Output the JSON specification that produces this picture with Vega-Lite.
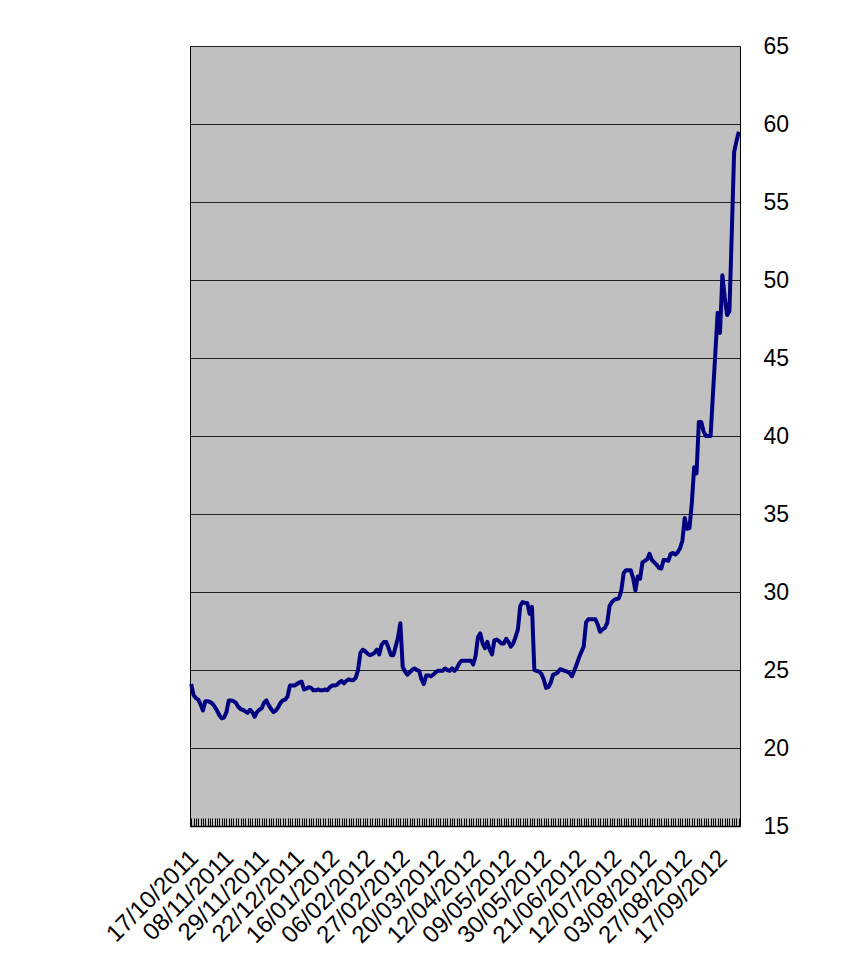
{
  "$schema": "https://vega.github.io/schema/vega-lite/v6.json",
  "width": 550,
  "height": 780,
  "autosize": {"type": "none"},
  "padding": {"left": 190, "top": 46, "right": 118, "bottom": 139},
  "background": "white",
  "config": {"view": {"fill": "#C0C0C0", "stroke": "#000000", "strokeWidth": 1}},
  "data": {"values": [
    {"date":"17/10/2011","value":24.1},{"date":"18/10/2011","value":23.4},{"date":"19/10/2011","value":23.2},{"date":"20/10/2011","value":23.1},{"date":"21/10/2011","value":22.8},
    {"date":"24/10/2011","value":22.4},{"date":"25/10/2011","value":23.0},{"date":"26/10/2011","value":23.0},{"date":"27/10/2011","value":22.95},{"date":"28/10/2011","value":22.85},
    {"date":"31/10/2011","value":22.65},{"date":"01/11/2011","value":22.4},{"date":"02/11/2011","value":22.1},{"date":"04/11/2011","value":21.9},{"date":"07/11/2011","value":21.95},
    {"date":"08/11/2011","value":22.3},{"date":"09/11/2011","value":23.05},{"date":"10/11/2011","value":23.05},{"date":"11/11/2011","value":23.0},{"date":"14/11/2011","value":22.9},
    {"date":"15/11/2011","value":22.65},{"date":"16/11/2011","value":22.5},{"date":"17/11/2011","value":22.45},{"date":"18/11/2011","value":22.35},{"date":"21/11/2011","value":22.25},
    {"date":"22/11/2011","value":22.45},{"date":"23/11/2011","value":22.3},{"date":"24/11/2011","value":22.0},{"date":"25/11/2011","value":22.3},{"date":"28/11/2011","value":22.45},
    {"date":"29/11/2011","value":22.55},{"date":"30/11/2011","value":22.9},{"date":"01/12/2011","value":23.05},{"date":"02/12/2011","value":22.75},{"date":"05/12/2011","value":22.5},
    {"date":"06/12/2011","value":22.3},{"date":"08/12/2011","value":22.4},{"date":"09/12/2011","value":22.6},{"date":"12/12/2011","value":22.9},{"date":"13/12/2011","value":23.05},
    {"date":"14/12/2011","value":23.1},{"date":"16/12/2011","value":23.3},{"date":"19/12/2011","value":24.0},{"date":"20/12/2011","value":24.0},{"date":"21/12/2011","value":24.0},
    {"date":"22/12/2011","value":24.1},{"date":"26/12/2011","value":24.2},{"date":"27/12/2011","value":24.25},{"date":"28/12/2011","value":23.75},{"date":"29/12/2011","value":23.8},
    {"date":"30/12/2011","value":23.9},{"date":"03/01/2012","value":23.85},{"date":"04/01/2012","value":23.7},{"date":"05/01/2012","value":23.7},{"date":"06/01/2012","value":23.75},
    {"date":"09/01/2012","value":23.7},{"date":"10/01/2012","value":23.7},{"date":"11/01/2012","value":23.75},{"date":"12/01/2012","value":23.7},{"date":"13/01/2012","value":23.9},
    {"date":"16/01/2012","value":24.0},{"date":"17/01/2012","value":24.0},{"date":"18/01/2012","value":24.05},{"date":"19/01/2012","value":24.2},{"date":"20/01/2012","value":24.3},
    {"date":"23/01/2012","value":24.15},{"date":"24/01/2012","value":24.3},{"date":"25/01/2012","value":24.4},{"date":"26/01/2012","value":24.35},{"date":"27/01/2012","value":24.35},
    {"date":"30/01/2012","value":24.5},{"date":"31/01/2012","value":25.0},{"date":"01/02/2012","value":26.1},{"date":"02/02/2012","value":26.3},{"date":"03/02/2012","value":26.2},
    {"date":"06/02/2012","value":26.05},{"date":"07/02/2012","value":25.95},{"date":"08/02/2012","value":26.0},{"date":"09/02/2012","value":26.1},{"date":"10/02/2012","value":26.3},
    {"date":"13/02/2012","value":26.0},{"date":"14/02/2012","value":26.6},{"date":"15/02/2012","value":26.8},{"date":"16/02/2012","value":26.8},{"date":"17/02/2012","value":26.4},
    {"date":"20/02/2012","value":25.95},{"date":"21/02/2012","value":25.95},{"date":"22/02/2012","value":26.5},{"date":"23/02/2012","value":27.1},{"date":"24/02/2012","value":28.0},
    {"date":"27/02/2012","value":25.2},{"date":"28/02/2012","value":24.9},{"date":"29/02/2012","value":24.7},{"date":"01/03/2012","value":24.85},{"date":"02/03/2012","value":25.0},
    {"date":"05/03/2012","value":25.1},{"date":"06/03/2012","value":25.0},{"date":"07/03/2012","value":24.95},{"date":"08/03/2012","value":24.4},{"date":"09/03/2012","value":24.1},
    {"date":"12/03/2012","value":24.65},{"date":"13/03/2012","value":24.65},{"date":"15/03/2012","value":24.6},{"date":"16/03/2012","value":24.7},{"date":"19/03/2012","value":24.85},
    {"date":"20/03/2012","value":24.95},{"date":"21/03/2012","value":24.95},{"date":"22/03/2012","value":24.95},{"date":"23/03/2012","value":25.1},{"date":"26/03/2012","value":25.0},
    {"date":"27/03/2012","value":24.95},{"date":"28/03/2012","value":25.1},{"date":"29/03/2012","value":24.95},{"date":"30/03/2012","value":25.1},{"date":"02/04/2012","value":25.4},
    {"date":"03/04/2012","value":25.6},{"date":"04/04/2012","value":25.6},{"date":"05/04/2012","value":25.6},{"date":"10/04/2012","value":25.6},{"date":"11/04/2012","value":25.6},
    {"date":"12/04/2012","value":25.35},{"date":"13/04/2012","value":25.9},{"date":"16/04/2012","value":27.1},{"date":"17/04/2012","value":27.35},{"date":"18/04/2012","value":26.7},
    {"date":"19/04/2012","value":26.4},{"date":"20/04/2012","value":26.8},{"date":"23/04/2012","value":26.3},{"date":"24/04/2012","value":26.0},{"date":"25/04/2012","value":26.9},
    {"date":"26/04/2012","value":26.95},{"date":"27/04/2012","value":26.85},{"date":"01/05/2012","value":26.7},{"date":"02/05/2012","value":26.7},{"date":"08/05/2012","value":27.0},
    {"date":"09/05/2012","value":26.8},{"date":"10/05/2012","value":26.5},{"date":"11/05/2012","value":26.7},{"date":"14/05/2012","value":27.1},{"date":"15/05/2012","value":27.6},
    {"date":"16/05/2012","value":29.1},{"date":"17/05/2012","value":29.35},{"date":"18/05/2012","value":29.3},{"date":"21/05/2012","value":29.3},{"date":"22/05/2012","value":28.6},
    {"date":"23/05/2012","value":29.05},{"date":"24/05/2012","value":25.0},{"date":"25/05/2012","value":24.95},{"date":"28/05/2012","value":24.9},{"date":"29/05/2012","value":24.75},
    {"date":"30/05/2012","value":24.4},{"date":"31/05/2012","value":23.85},{"date":"01/06/2012","value":23.9},{"date":"04/06/2012","value":24.2},{"date":"06/06/2012","value":24.7},
    {"date":"07/06/2012","value":24.75},{"date":"08/06/2012","value":24.85},{"date":"11/06/2012","value":25.05},{"date":"12/06/2012","value":25.0},{"date":"13/06/2012","value":24.95},
    {"date":"14/06/2012","value":24.9},{"date":"15/06/2012","value":24.8},{"date":"18/06/2012","value":24.6},{"date":"19/06/2012","value":24.95},{"date":"20/06/2012","value":25.35},
    {"date":"21/06/2012","value":25.8},{"date":"22/06/2012","value":26.15},{"date":"25/06/2012","value":26.5},{"date":"26/06/2012","value":28.05},{"date":"27/06/2012","value":28.25},
    {"date":"28/06/2012","value":28.25},{"date":"29/06/2012","value":28.25},{"date":"02/07/2012","value":28.25},{"date":"03/07/2012","value":27.9},{"date":"04/07/2012","value":27.45},
    {"date":"05/07/2012","value":27.6},{"date":"06/07/2012","value":27.7},{"date":"09/07/2012","value":28.0},{"date":"10/07/2012","value":29.1},{"date":"11/07/2012","value":29.35},
    {"date":"12/07/2012","value":29.5},{"date":"13/07/2012","value":29.55},{"date":"17/07/2012","value":29.6},{"date":"18/07/2012","value":30.1},{"date":"19/07/2012","value":31.2},
    {"date":"20/07/2012","value":31.4},{"date":"23/07/2012","value":31.4},{"date":"24/07/2012","value":31.4},{"date":"25/07/2012","value":30.9},{"date":"26/07/2012","value":30.1},
    {"date":"27/07/2012","value":31.0},{"date":"30/07/2012","value":30.85},{"date":"31/07/2012","value":31.9},{"date":"01/08/2012","value":32.0},{"date":"02/08/2012","value":32.1},
    {"date":"03/08/2012","value":32.45},{"date":"06/08/2012","value":32.05},{"date":"07/08/2012","value":31.9},{"date":"08/08/2012","value":31.75},{"date":"09/08/2012","value":31.55},
    {"date":"10/08/2012","value":31.5},{"date":"13/08/2012","value":32.05},{"date":"14/08/2012","value":32.05},{"date":"16/08/2012","value":32.0},{"date":"17/08/2012","value":32.45},
    {"date":"20/08/2012","value":32.5},{"date":"21/08/2012","value":32.4},{"date":"22/08/2012","value":32.55},{"date":"23/08/2012","value":32.8},{"date":"24/08/2012","value":33.3},
    {"date":"27/08/2012","value":34.75},{"date":"28/08/2012","value":34.05},{"date":"29/08/2012","value":34.1},{"date":"30/08/2012","value":35.7},{"date":"31/08/2012","value":38.0},
    {"date":"03/09/2012","value":37.6},{"date":"04/09/2012","value":40.9},{"date":"05/09/2012","value":40.9},{"date":"06/09/2012","value":40.3},{"date":"07/09/2012","value":40.0},
    {"date":"10/09/2012","value":40.0},{"date":"11/09/2012","value":40.0},{"date":"12/09/2012","value":42.7},{"date":"13/09/2012","value":45.3},{"date":"14/09/2012","value":47.9},
    {"date":"17/09/2012","value":46.6},{"date":"18/09/2012","value":50.3},{"date":"19/09/2012","value":48.9},{"date":"20/09/2012","value":47.75},{"date":"21/09/2012","value":48.0},
    {"date":"24/09/2012","value":53.0},{"date":"25/09/2012","value":58.2},{"date":"26/09/2012","value":58.9},{"date":"27/09/2012","value":59.5}
  ]},
  "mark": {"type": "line", "color": "#000080", "strokeWidth": 4, "strokeJoin": "round"},
  "encoding": {
    "x": {
      "field": "date", "type": "ordinal", "sort": null,
      "scale": {"type": "point", "padding": 0.5},
      "axis": {
        "title": null,
        "labelAngle": -45, "labelAlign": "right", "labelBaseline": "middle",
        "labelFont": "Liberation Sans", "labelFontSize": 24, "labelColor": "#000000",
        "labelOverlap": false, "labelBound": false, "labelFlush": false,
        "labelExpr": "indexof(['17/10/2011','08/11/2011','29/11/2011','22/12/2011','16/01/2012','06/02/2012','27/02/2012','20/03/2012','12/04/2012','09/05/2012','30/05/2012','21/06/2012','12/07/2012','03/08/2012','27/08/2012','17/09/2012'], datum.value) >= 0 ? datum.value : ''",
        "tickSize": -8, "tickColor": "#000000", "tickWidth": 1,
        "domainColor": "#000000", "domainWidth": 1.5,
        "labelPadding": 36, "labelOffset": 3, "grid": false
      }
    },
    "y": {
      "field": "value", "type": "quantitative",
      "scale": {"domain": [15, 65], "nice": false, "zero": false},
      "axis": {
        "orient": "right", "title": null,
        "values": [15, 20, 25, 30, 35, 40, 45, 50, 55, 60, 65],
        "grid": true, "gridColor": "#222222", "gridWidth": 1,
        "ticks": false, "domain": false,
        "labelFont": "Liberation Sans", "labelFontSize": 23, "labelColor": "#000000",
        "labelPadding": 23, "labelFlush": false
      }
    }
  }
}
